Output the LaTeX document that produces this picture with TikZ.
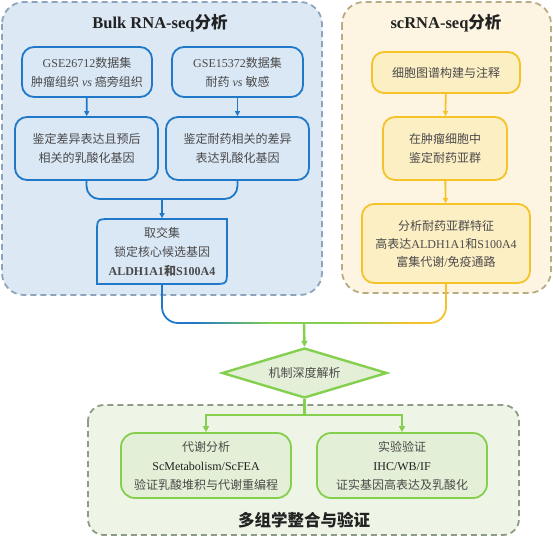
\documentclass[tikz,border=0pt]{standalone}
\usepackage{fontspec}
\setmainfont{Liberation Serif}
\newfontfamily\zhfont{Noto Sans CJK SC}
\newcommand\zh[1]{{\zhfont #1}}
\usetikzlibrary{arrows.meta,shapes.geometric}
\definecolor{bcontfill}{HTML}{DCE8F4}
\definecolor{bcontline}{HTML}{8EA4BD}
\definecolor{bboxfill}{HTML}{DAE7F5}
\definecolor{bline}{HTML}{1F78C8}
\definecolor{ycontfill}{HTML}{FDF5E2}
\definecolor{ycontline}{HTML}{B9AB84}
\definecolor{yboxfill}{HTML}{FDEFC4}
\definecolor{yline}{HTML}{F6C22A}
\definecolor{gcontfill}{HTML}{EEF5E6}
\definecolor{gcontline}{HTML}{8D9C86}
\definecolor{gboxfill}{HTML}{E3EFD6}
\definecolor{gline}{HTML}{85CF4F}
\definecolor{txt}{HTML}{4A4A4A}
\definecolor{ttl}{HTML}{222222}
\begin{document}
\begin{tikzpicture}[x=1pt,y=-1pt,
  cont/.style={line width=1.8pt,dash pattern=on 6pt off 4pt,rounded corners=22pt},
  box/.style={rectangle,rounded corners=12pt,line width=1.8pt,inner sep=0pt,align=center,
    text=txt,font=\fontsize{12}{19}\selectfont},
  bbox/.style={box,draw=bline,fill=bboxfill},
  ybox/.style={box,draw=yline,fill=yboxfill},
  gbox/.style={box,draw=gline,fill=gboxfill,rounded corners=14pt},
  ttlnode/.style={text=ttl,font=\fontsize{16.5}{20}\selectfont\bfseries},
  bconn/.style={draw=bline,line width=1.8pt},
  barrow/.style={bconn,-{Triangle[length=5pt,width=5pt]}},
  yconn/.style={draw=yline,line width=1.8pt},
  yarrow/.style={yconn,-{Triangle[length=5pt,width=5pt]}},
  gconn/.style={draw=gline,line width=2.4pt},
  garrow/.style={gconn,-{Triangle[length=6pt,width=6pt]}}
]
\useasboundingbox (0,0) rectangle (553,540);

% containers
\path[cont,draw=bcontline,fill=bcontfill] (2,2) rectangle (322,295);
\path[cont,draw=ycontline,fill=ycontfill] (342,2) rectangle (551,293);
\path[cont,draw=gcontline,fill=gcontfill,rounded corners=16pt] (88,405) rectangle (519,535);

% titles
\node[ttlnode] (t1) at (160,23) {Bulk RNA-seq\zh{分析}};
\node[ttlnode] (t2) at (446,23) {scRNA-seq\zh{分析}};
\node[ttlnode] (t3) at (304,520) {\zh{多组学整合与验证}};

% bulk boxes
\node[bbox,minimum width=130pt,minimum height=50pt] (A1) at (87,72)
  {GSE26712\zh{数据集}\\\zh{肿瘤组织} \textit{vs} \zh{癌旁组织}};
\node[bbox,minimum width=131pt,minimum height=50pt] (B1) at (237.5,72)
  {GSE15372\zh{数据集}\\\zh{耐药} \textit{vs} \zh{敏感}};
\node[bbox,minimum width=143pt,minimum height=63pt] (A2) at (86.5,148.5)
  {\zh{鉴定差异表达且预后}\\\zh{相关的乳酸化基因}};
\node[bbox,minimum width=143pt,minimum height=63pt] (B2) at (237.5,148.5)
  {\zh{鉴定耐药相关的差异}\\\zh{表达乳酸化基因}};

% box C with two rounded corners
\path[draw=bline,fill=bboxfill,line width=1.8pt]
  (97,233) .. controls (97,219) .. (111,219) -- (227,219) -- (227,270)
  .. controls (227,284) .. (213,284) -- (97,284) -- cycle;
\node[box,minimum width=130pt,minimum height=65pt] (C) at (162,251.5)
  {\zh{取交集}\\\zh{锁定核心候选基因}\\\textbf{ALDH1A1\zh{和}S100A4}};

\draw[barrow] (A1) -- (A2);
\draw[barrow] (B1) -- (B2);
\coordinate (M) at (162,199);
\draw[bconn,rounded corners=13pt] (A2.south) |- (M) -| (B2.south);
\draw[barrow] (M) -- (C.north);

% sc boxes
\node[ybox,minimum width=148pt,minimum height=41pt] (D1) at (446,72.5)
  {\zh{细胞图谱构建与注释}};
\node[ybox,minimum width=124pt,minimum height=63pt] (D2) at (445,148.5)
  {\zh{在肿瘤细胞中}\\\zh{鉴定耐药亚群}};
\node[ybox,minimum width=168pt,minimum height=79pt,font=\fontsize{12}{18}\selectfont] (D3) at (446,243.5)
  {\zh{分析耐药亚群特征}\\\zh{高表达}ALDH1A1\zh{和}S100A4\\\zh{富集代谢}/\zh{免疫通路}};
\draw[yarrow] (D1) -- (D2);
\draw[yarrow] (D2) -- (D3);

% merge into diamond
\coordinate (J) at (304,323);
\draw[bconn,rounded corners=16pt] (C.south) -- (C.south |- J) -- (194,323);
\shade[left color=bline,right color=gline] (193.5,322.1) rectangle (272,323.9);
\draw[gconn,line width=1.8pt] (271.5,323) -- (340.5,323);
\shade[left color=gline,right color=yline] (340,322.1) rectangle (412,323.9);
\draw[yconn,rounded corners=16pt] (411.5,323) -- (D3.south |- J) -- (D3.south);

\node[diamond,shape aspect=3.3,minimum width=165pt,minimum height=50pt,inner sep=0pt,
  draw=gline,fill=gboxfill,line width=2.4pt,text=txt,font=\fontsize{12}{14}\selectfont]
  (dia) at (304.5,373) {\zh{机制深度解析}};
\draw[garrow] (J) -- (dia.north);

% bottom boxes
\node[gbox,minimum width=170pt,minimum height=65pt] (E1) at (206,465.5)
  {\zh{代谢分析}\\{\color{ttl}ScMetabolism/ScFEA}\\\zh{验证乳酸堆积与代谢重编程}};
\node[gbox,minimum width=170pt,minimum height=65pt] (E2) at (402,465.5)
  {\zh{实验验证}\\{\color{ttl}IHC/WB/IF}\\\zh{证实基因高表达及乳酸化}};
\coordinate (S) at (304.5,415);
\draw[gconn] (dia.south) -- (S);
\draw[garrow] (S) -| (E1.north);
\draw[garrow] (S) -| (E2.north);
\end{tikzpicture}
\end{document}
